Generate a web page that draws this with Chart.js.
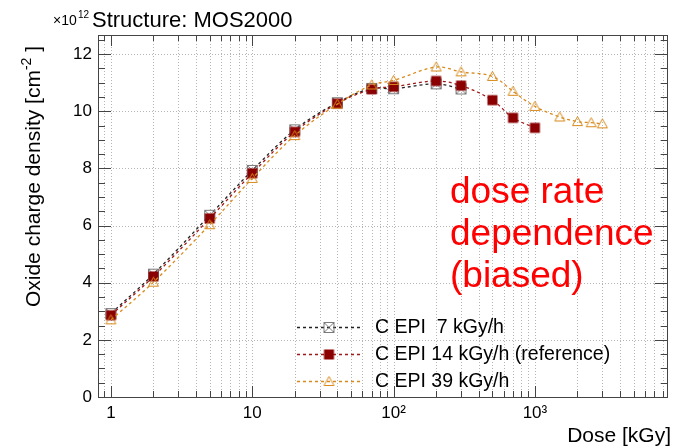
<!DOCTYPE html>
<html>
<head>
<meta charset="utf-8">
<script src="https://cdn.jsdelivr.net/npm/chart.js@4"></script>
<style>
  html, body { margin: 0; padding: 0; background: #fff; }
  canvas { display: block; }
</style>
</head>
<body>
<canvas id="myChart" width="673" height="448"></canvas>
<script>
// doses in kGy, oxide charge density in units of 1e12 cm^-2
const dose7 = [1, 2, 5, 10, 20, 40, 70, 100, 200, 300];
const ox7 = [2.92, 4.30, 6.36, 7.93, 9.35, 10.30, 10.80, 10.79, 10.96, 10.78];

const dose14 = [1, 2, 5, 10, 20, 40, 70, 100, 200, 300, 500, 700, 1000];
const ox14 = [2.86, 4.22, 6.25, 7.83, 9.28, 10.27, 10.77, 10.86, 11.06, 10.90, 10.39, 9.77, 9.42];

const dose39 = [1, 2, 5, 10, 20, 40, 70, 100, 200, 300, 500, 700, 1000, 1500, 2000, 2500, 3000];
const ox39 = [2.70, 4.02, 6.03, 7.65, 9.15, 10.25, 10.92, 11.08, 11.55, 11.38, 11.22, 10.70, 10.17, 9.80, 9.64, 9.60, 9.56];

const seriesLabels = ['C EPI  7 kGy/h', 'C EPI 14 kGy/h (reference)', 'C EPI 39 kGy/h'];
const xMajor = [1, 10, 100, 1000];
const xLabels = ['1', '10', '10²', '10³'];
const yTicks = [0, 2, 4, 6, 8, 10, 12];

const X_MIN = 0.81, X_MAX = 8700, Y_MAX = 12.67;
const FONT = '"Liberation Sans", Arial, Helvetica, sans-serif';

// all log ticks (major + minor) inside the range
const xAll = [];
[0.1, 1, 10, 100, 1000].forEach(d => {
  for (let m = 1; m <= 9; m++) {
    const v = +(m * d).toPrecision(6);
    if (v >= X_MIN && v <= X_MAX) xAll.push(v);
  }
});

function toXY(xs, ys) {
  return xs.map((x, i) => ({ x: x, y: ys[i] }));
}

function makeMarker(kind) {
  const c = document.createElement('canvas');
  c.width = 13; c.height = 13;
  const g = c.getContext('2d');
  g.lineWidth = 1;
  if (kind === 'crossSquare') {
    g.strokeStyle = '#7a7a7a';
    g.strokeRect(1.5, 1.5, 10, 10);
    g.beginPath();
    g.moveTo(1.5, 1.5); g.lineTo(11.5, 11.5);
    g.moveTo(11.5, 1.5); g.lineTo(1.5, 11.5);
    g.stroke();
  } else if (kind === 'square') {
    g.fillStyle = '#8b0000';
    g.fillRect(1.5, 1.5, 10, 10);
  } else {
    g.strokeStyle = '#d88a1c';
    g.beginPath();
    g.moveTo(6.5, 1.5); g.lineTo(11.5, 10.5); g.lineTo(1.5, 10.5); g.closePath();
    g.stroke();
  }
  return c;
}

const markA = makeMarker('crossSquare');
const markB = makeMarker('square');
const markC = makeMarker('triangle');

const framePlugin = {
  id: 'frame',
  beforeDatasetsDraw(chart) {
    const { ctx, chartArea: a, scales: { x, y } } = chart;
    ctx.save();
    ctx.strokeStyle = '#b5b5b5';
    ctx.lineWidth = 1;
    ctx.setLineDash([1, 2]);
    ctx.beginPath();
    xAll.forEach(v => {
      const px = Math.round(x.getPixelForValue(v)) + 0.5;
      ctx.moveTo(px, a.top); ctx.lineTo(px, a.bottom);
    });
    yTicks.forEach(v => {
      const py = Math.round(y.getPixelForValue(v)) + 0.5;
      ctx.moveTo(a.left, py); ctx.lineTo(a.right, py);
    });
    ctx.stroke();
    ctx.restore();
  },
  afterDatasetsDraw(chart) {
    const { ctx, chartArea: a, scales: { x, y } } = chart;
    ctx.save();
    ctx.strokeStyle = '#444';
    ctx.lineWidth = 1;
    ctx.beginPath();
    // y ticks, left and right, pointing inwards
    for (let k = 0; k * 0.5 <= Y_MAX; k++) {
      const py = Math.round(y.getPixelForValue(k * 0.5)) + 0.5;
      const len = k % 4 === 0 ? 13 : 7;
      ctx.moveTo(a.left, py); ctx.lineTo(a.left + len, py);
      ctx.moveTo(a.right, py); ctx.lineTo(a.right - len, py);
    }
    // x ticks, bottom and top
    xAll.forEach(v => {
      const px = Math.round(x.getPixelForValue(v)) + 0.5;
      const len = xMajor.includes(v) ? 11 : 6;
      ctx.moveTo(px, a.bottom); ctx.lineTo(px, a.bottom - len);
      ctx.moveTo(px, a.top); ctx.lineTo(px, a.top + len);
    });
    ctx.stroke();
    ctx.strokeRect(Math.round(a.left) + 0.5, Math.round(a.top) + 0.5,
      Math.round(a.right - a.left) - 1, Math.round(a.bottom - a.top));
    ctx.restore();
  },
  afterDraw(chart) {
    const ctx = chart.ctx;
    const ds = chart.data.datasets;
    ctx.save();
    ctx.fillStyle = '#000';
    ctx.textBaseline = 'alphabetic';

    // x10^12 and title
    ctx.font = '14px ' + FONT;
    ctx.fillText('×10', 53, 25);
    ctx.font = '10px ' + FONT;
    ctx.fillText('12', 78, 18);
    ctx.font = '22px ' + FONT;
    ctx.fillText('Structure: MOS2000', 92, 27);

    // y axis title (rotated, aligned to top end)
    ctx.save();
    ctx.translate(40, 46);
    ctx.rotate(-Math.PI / 2);
    const p1 = 'Oxide charge density [cm';
    const p2 = ' ]';
    ctx.font = '14px ' + FONT;
    const wSup = ctx.measureText('-2').width;
    ctx.font = '21px ' + FONT;
    const w1 = ctx.measureText(p1).width;
    const w2 = ctx.measureText(p2).width;
    const start = -(w1 + wSup + w2);
    ctx.fillText(p1, start, 0);
    ctx.font = '14px ' + FONT;
    ctx.fillText('-2', start + w1, -9);
    ctx.font = '21px ' + FONT;
    ctx.fillText(p2, start + w1 + wSup, 0);
    ctx.restore();

    // x axis title
    ctx.font = '21px ' + FONT;
    ctx.textAlign = 'right';
    ctx.fillText('Dose [kGy]', 671, 442);
    ctx.textAlign = 'left';

    // annotation
    ctx.fillStyle = '#ff0000';
    ctx.font = '37px ' + FONT;
    ctx.fillText('dose rate', 450, 203);
    ctx.fillText('dependence', 450, 245);
    ctx.fillText('(biased)', 450, 287);

    // legend
    const rows = [327, 354, 381];
    ctx.font = '19.5px ' + FONT;
    ctx.textBaseline = 'middle';
    ds.forEach((d, i) => {
      const ry = rows[i] + 0.5;
      ctx.strokeStyle = d.borderColor;
      ctx.lineWidth = d.borderWidth;
      ctx.setLineDash(d.borderDash);
      ctx.beginPath();
      ctx.moveTo(297, ry); ctx.lineTo(361, ry);
      ctx.stroke();
      ctx.setLineDash([]);
      const m = d.pointStyle;
      ctx.drawImage(m, 329 - m.width / 2, ry - m.height / 2);
      ctx.fillStyle = '#000';
      ctx.fillText(seriesLabels[i], 375, rows[i] + 1);
    });
    ctx.restore();
  }
};

const ctx = document.getElementById('myChart').getContext('2d');
const myChart = new Chart(ctx, {
  type: 'line',
  data: {
    datasets: [
      {
        label: seriesLabels[0],
        data: toXY(dose7, ox7),
        borderColor: '#222222',
        borderWidth: 1.3,
        borderDash: [3, 3],
        pointStyle: markA,
        tension: 0.35,
        fill: false,
        order: 3
      },
      {
        label: seriesLabels[1],
        data: toXY(dose14, ox14),
        borderColor: '#a01818',
        borderWidth: 1.3,
        borderDash: [3, 3],
        pointStyle: markB,
        tension: 0.35,
        fill: false,
        order: 2
      },
      {
        label: seriesLabels[2],
        data: toXY(dose39, ox39),
        borderColor: '#d88a1c',
        borderWidth: 1.3,
        borderDash: [3, 3],
        pointStyle: markC,
        tension: 0.35,
        fill: false,
        order: 1
      }
    ]
  },
  options: {
    responsive: false,
    animation: false,
    devicePixelRatio: 1,
    layout: { padding: { top: 35, right: 2, left: 0, bottom: 0 } },
    plugins: {
      legend: { display: false },
      tooltip: { enabled: false }
    },
    scales: {
      x: {
        type: 'logarithmic',
        min: X_MIN,
        max: X_MAX,
        afterBuildTicks: s => { s.ticks = xAll.map(v => ({ value: v })); },
        afterFit: s => { s.height = 51; },
        grid: { display: false, drawTicks: false },
        border: { display: false },
        ticks: {
          autoSkip: false,
          maxRotation: 0,
          padding: 6,
          color: '#000',
          font: { family: FONT, size: 17 },
          callback: function(value) {
            const i = xMajor.indexOf(value);
            return i >= 0 ? xLabels[i] : '';
          }
        }
      },
      y: {
        min: 0,
        max: Y_MAX,
        afterBuildTicks: s => { s.ticks = yTicks.map(v => ({ value: v })); },
        afterFit: s => { s.width = 98; },
        grid: { display: false, drawTicks: false },
        border: { display: false },
        ticks: {
          padding: 6,
          color: '#000',
          font: { family: FONT, size: 17 }
        }
      }
    }
  },
  plugins: [framePlugin]
});
</script>
</body>
</html>
